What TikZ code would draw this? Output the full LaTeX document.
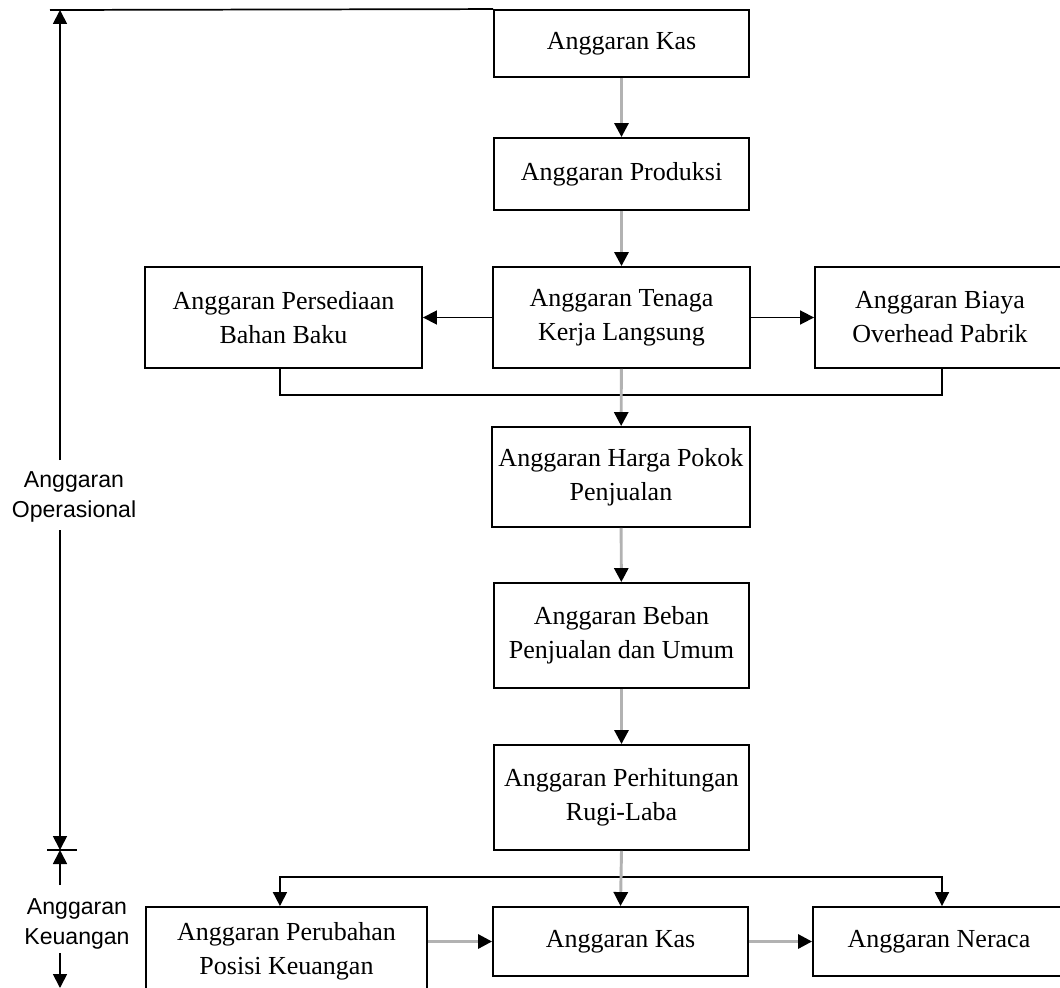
\documentclass[tikz,border=0pt]{standalone}
\usepackage{fontspec}
\setmainfont{Liberation Serif}
\newfontfamily\etiqfont{Liberation Sans}
\usetikzlibrary{arrows.meta}

\begin{document}
\begin{tikzpicture}[x=0.75pt, y=-0.75pt,
		caja/.style={draw, line width=1.4pt, align=center, inner sep=0pt, minimum width=191.25pt, font=\fontsize{19.5}{25.5}\selectfont},
		punta/.style={-{Triangle[length=10.5pt, width=10.5pt, color=black]}},
		flecha/.style={punta, line width=2.2pt, draw=black!30},
		linea/.style={line width=1.3pt},
		etiq/.style={align=center, inner sep=0pt, font=\etiqfont\fontsize{17.3}{23}\selectfont}]
			\useasboundingbox (0,0) rectangle (1060,988);
			\clip (0,0) rectangle (1060,988);

			% Columna central
			\node[caja, minimum height=50.25pt] (kas1) at (621.5, 43.5) {Anggaran Kas};
			\node[caja, minimum height=54pt] (produksi) at (621.5, 174) {Anggaran Produksi};
			\node[caja, minimum width=192.75pt, minimum height=75.75pt] (tenaga) at (621.5, 317.5) {Anggaran Tenaga\\Kerja Langsung};
			\node[caja, minimum width=207.75pt, minimum height=75.75pt] (bahan) at (283.5, 317.5) {Anggaran Persediaan\\Bahan Baku};
			\node[caja, minimum width=187.5pt, minimum height=75.75pt] (overhead) at (940, 317.5) {Anggaran Biaya\\Overhead Pabrik};
			\node[caja, minimum width=193.5pt, minimum height=75pt] (hpp) at (621, 477) {Anggaran Harga Pokok\\Penjualan};
			\node[caja, minimum height=78.75pt] (beban) at (621.5, 635.5) {Anggaran Beban\\Penjualan dan Umum};
			\node[caja, minimum height=78.75pt] (rugilaba) at (621.5, 797.5) {Anggaran Perhitungan\\Rugi-Laba};

			% Fila de abajo
			\node[caja, minimum width=210.75pt, minimum height=66pt] (perubahan) at (286.5, 951) {Anggaran Perubahan\\Posisi Keuangan};
			\node[caja, minimum height=51.75pt] (kas2) at (620.5, 941.5) {Anggaran Kas};
			\node[caja, minimum width=189pt, minimum height=51.75pt] (neraca) at (939, 941.5) {Anggaran Neraca};

			% Conexiones
			\draw[flecha] (kas1) -- (produksi);
			\draw[flecha] (produksi) -- (tenaga);
			\draw[linea, punta] (tenaga) -- (bahan);
			\draw[linea, punta] (tenaga) -- (overhead);
			\draw[linea] ([xshift=-2.6pt]bahan.south) -- ++(0,26) -| ([xshift=1.5pt]overhead.south);
			\draw[flecha] (tenaga) -- (hpp);
			\draw[flecha] (hpp) -- (beban);
			\draw[flecha] (beban) -- (rugilaba);
			\coordinate (reparto) at (rugilaba.south |- 0,877);
			\draw[linea, punta] (reparto) -| ([xshift=-4.9pt]perubahan.north);
			\draw[linea, punta] (reparto) -| ([xshift=2.25pt]neraca.north);
			\draw[flecha] (rugilaba.south) -- (kas2.north);
			\draw[flecha] (perubahan.east |- kas2.west) -- (kas2.west);
			\draw[flecha] (kas2) -- (neraca);

			% Cotas a la izquierda
			\coordinate (optop) at (60,10);
			\coordinate (opbot) at (60,850);
			\coordinate (opa) at (60,460);
			\coordinate (opb) at (60,530);
			\coordinate (kua) at (60,885);
			\coordinate (kub) at (60,953);
			\coordinate (kubot) at (60,988);
			\coordinate (esquina) at (50,10);
			\node[etiq] (lblop) at (74, 497) {Anggaran\\Operasional};
			\node[etiq] (lblku) at (77, 924) {Anggaran\\Keuangan};
			\draw[linea] (esquina) -- (kas1.north west);
			\draw[linea, punta] (opa) -- (optop);
			\draw[linea, punta] (opb) -- (opbot);
			\draw[linea] (opbot) ++(-13,0) -- ++(30,0);
			\draw[linea, punta] (kua) -- (opbot);
			\draw[linea, punta] (kub) -- (kubot);
		\end{tikzpicture}
\end{document}
